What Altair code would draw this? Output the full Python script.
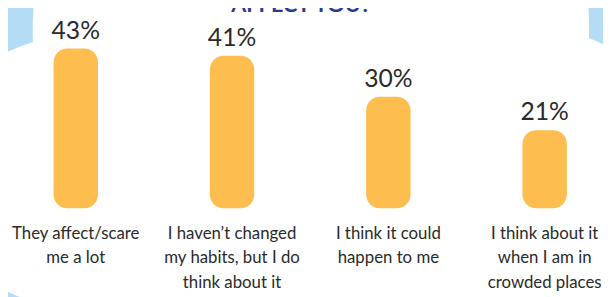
import altair as alt
import pandas as pd

# ---- data ----
categories = ["A", "B", "C", "D"]
label_lines = [
    ["They affect/scare", "me a lot"],
    ["I haven\u2019t changed", "my habits, but I do", "think about it"],
    ["I think it could", "happen to me"],
    ["I think about it", "when I am in", "crowded places"],
]
values = [43, 41, 30, 21]
title_text = "AFFECT YOU?"

df = pd.DataFrame({"cat": categories, "value": values, "label": label_lines})

FONT = "Liberation Sans Narrow, Lato, sans-serif"
BAR = "#FDBD4F"
SKY = "#B4DDF5"
INK = "#2A2A2A"

W, H = 603, 289

x_enc = alt.X("cat:N", scale=alt.Scale(type="band", range=[-10.55, 623.05],
                                        paddingInner=0, paddingOuter=0), axis=None)
y_scale = alt.Scale(domain=[0, 50], range=[201, 12.6])
y_enc = alt.Y("value:Q", scale=y_scale, axis=None)

base = alt.Chart(df)

bars = base.mark_bar(size=45, cornerRadius=14, color=BAR).encode(
    x=x_enc, y=y_enc, y2=alt.datum(0)
)

pct = base.transform_calculate(txt="datum.value + '%'").mark_text(
    font=FONT, fontSize=25, color=INK, baseline="alphabetic", dy=-10
).encode(x=x_enc, y=y_enc, text="txt:N")

cats = base.transform_calculate(zero="0").mark_text(
    font=FONT, fontSize=17, color=INK, baseline="alphabetic", lineHeight=25, dy=31
).encode(x=x_enc, y=alt.Y("zero:Q", scale=y_scale, axis=None), text="label")

# decorative cloud (white lobes over the sky-blue background)
one = pd.DataFrame({"k": [0]})
def lobe(cx, cy, r):
    return alt.Chart(one).mark_circle(color="white", opacity=1).encode(
        x=alt.value(cx), y=alt.value(cy), size=alt.value(4 * r * r)
    )

cloud = (lobe(307, 20, 282) + lobe(61, 164, 136) + lobe(537, 164, 145)
         + lobe(307, 192, 260))

title = alt.Chart(one).mark_text(
    text=title_text, font=FONT,
    fontSize=22, fontWeight="bold", color="#2E3A8C", baseline="alphabetic"
).encode(x=alt.value(297), y=alt.value(2))

chart = alt.layer(cloud, title, bars, pct, cats).properties(
    width=W, height=H, background=SKY, padding=0,
    autosize=alt.AutoSizeParams(type="none"),
).configure_view(stroke=None)

chart.save("out.html", embed_options={"renderer": "svg", "actions": False})
